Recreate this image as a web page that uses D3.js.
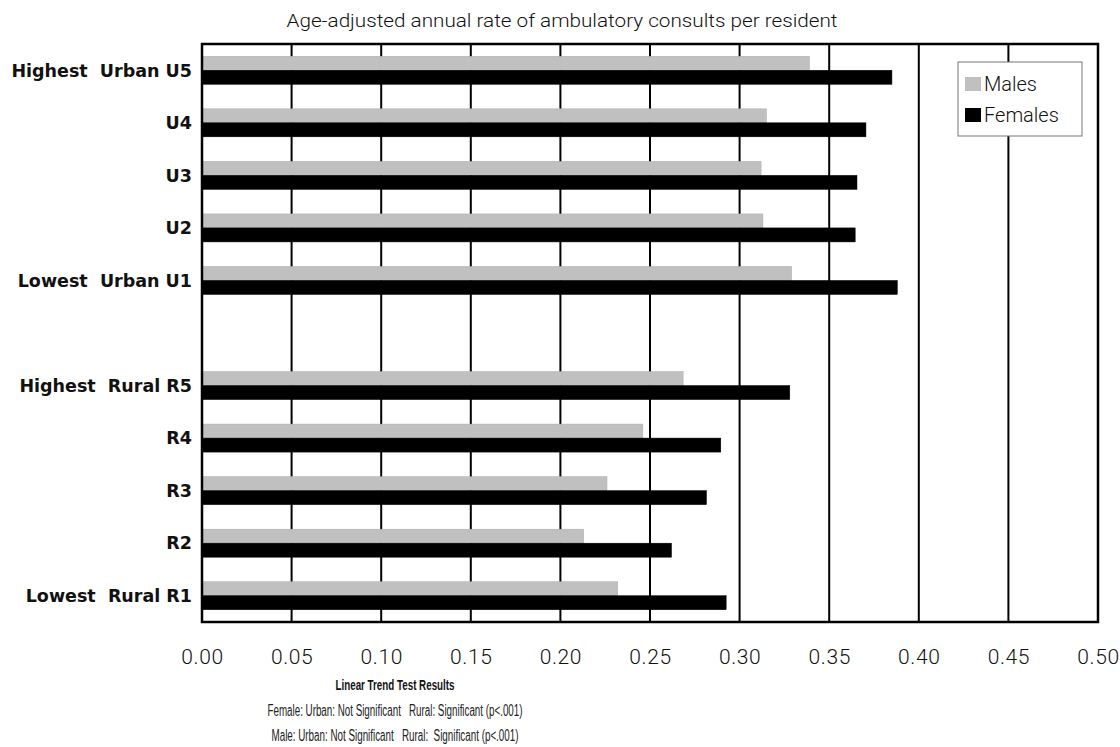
<!DOCTYPE html>
<html>
<head>
<meta charset="utf-8">
<script src="https://cdn.jsdelivr.net/npm/d3@7"></script>
<style>
  html, body { margin: 0; padding: 0; background: #fff; }
  svg { display: block; }
  text { font-family: "Liberation Sans", Arial, sans-serif; }
</style>
</head>
<body>
<svg id="chart" width="1120" height="747"></svg>
<script>
// ---- data ----
const categories = ["Highest  Urban U5", "U4", "U3", "U2", "Lowest  Urban U1", "",
                    "Highest  Rural R5", "R4", "R3", "R2", "Lowest  Rural R1"];
const males   = [0.339, 0.315, 0.312, 0.313, 0.329, null, 0.2685, 0.246, 0.226, 0.213, 0.232];
const females = [0.385, 0.3705, 0.3655, 0.3645, 0.388, null, 0.328, 0.2895, 0.2815, 0.262, 0.2925];
const seriesNames = ["Males", "Females"];
const tickValues = [0, 0.05, 0.10, 0.15, 0.20, 0.25, 0.30, 0.35, 0.40, 0.45, 0.50];
const subtitle = "Age-adjusted annual rate of ambulatory consults per resident";
const footTitle = "Linear Trend Test Results";
const footLines = ["Female: Urban: Not Significant   Rural: Significant (p<.001)",
                   "Male: Urban: Not Significant   Rural:  Significant (p<.001)"];

// ---- layout ----
const svg = d3.select("#chart");
const L = 202, R = 1098, T = 44, B = 622;
const colors = { Males: "#c0c0c0", Females: "#000000" };

const x = d3.scaleLinear().domain([0, 0.5]).range([L, R]);
const keys = categories.map((c, i) => "k" + i);
const y = d3.scaleBand().domain(keys).range([T, B]).padding(0);
const step = y.bandwidth();
const sub = d3.scaleBand().domain(seriesNames).range([step / 2 - 14, step / 2 + 14]).padding(0);

// subtitle
svg.append("text")
  .attr("x", 562).attr("y", 27)
  .attr("text-anchor", "middle")
  .attr("textLength", 551)
  .attr("lengthAdjust", "spacingAndGlyphs")
  .style("font-family", "Roboto, 'Liberation Sans', sans-serif")
  .style("font-weight", "300")
  .style("font-size", "18.5px")
  .style("fill", "#111")
  .text(subtitle);

// gridlines (behind bars)
svg.append("g")
  .selectAll("line")
  .data(tickValues.slice(1, -1))
  .join("line")
  .attr("x1", d => x(d)).attr("x2", d => x(d))
  .attr("y1", T).attr("y2", B)
  .attr("stroke", "#000").attr("stroke-width", 2);

// bars
const rows = categories.map((c, i) => ({ key: keys[i], label: c, Males: males[i], Females: females[i] }))
  .filter(d => d.Males !== null);

const g = svg.append("g");
rows.forEach(r => {
  seriesNames.forEach(s => {
    g.append("rect")
      .attr("x", x(0))
      .attr("y", y(r.key) + sub(s))
      .attr("width", x(r[s]) - x(0))
      .attr("height", sub.bandwidth())
      .attr("fill", colors[s])
      .attr("stroke", s === "Males" ? "#aaa" : "#000")
      .attr("stroke-width", 0.5);
  });
});

// plot border
svg.append("rect")
  .attr("x", L).attr("y", T).attr("width", R - L).attr("height", B - T)
  .attr("fill", "none").attr("stroke", "#000").attr("stroke-width", 2.5);

// category labels
svg.append("g")
  .selectAll("text")
  .data(rows)
  .join("text")
  .attr("x", 192)
  .attr("y", d => y(d.key) + step / 2)
  .attr("dy", "0.36em")
  .attr("text-anchor", "end")
  .attr("xml:space", "preserve")
  .style("white-space", "pre")
  .style("font-family", "'DejaVu Sans', sans-serif")
  .style("font-size", "17.5px")
  .style("font-weight", "bold")
  .style("fill", "#111")
  .text(d => d.label);

// x axis (labels only)
const xAxis = d3.axisBottom(x).tickValues(tickValues).tickSize(0).tickPadding(0)
  .tickFormat(d3.format(".2f"));
const ax = svg.append("g").attr("transform", `translate(0, ${B + 27})`).call(xAxis);
ax.select(".domain").remove();
ax.selectAll("text")
  .style("font-family", "Roboto, 'Liberation Sans', sans-serif")
  .style("font-weight", "300")
  .style("font-size", "21px")
  .style("letter-spacing", "0.6px")
  .style("fill", "#111");

// legend
const lg = svg.append("g");
lg.append("rect").attr("x", 958).attr("y", 62).attr("width", 124).attr("height", 74)
  .attr("fill", "#fff").attr("stroke", "#777").attr("stroke-width", 1);
seriesNames.forEach((s, i) => {
  lg.append("rect").attr("x", 965).attr("y", 77 + i * 31).attr("width", 16).attr("height", 14)
    .attr("fill", colors[s]);
  lg.append("text").attr("x", 984).attr("y", 84 + i * 31).attr("dy", "0.36em")
    .style("font-family", "Roboto, 'Liberation Sans', sans-serif")
    .style("font-weight", "300")
    .style("font-size", "20px").style("fill", "#111").text(s);
});

// footer
svg.append("text")
  .attr("x", 395).attr("y", 690)
  .attr("text-anchor", "middle")
  .attr("textLength", 119)
  .attr("lengthAdjust", "spacingAndGlyphs")
  .style("font-weight", "bold")
  .style("font-size", "15px")
  .style("fill", "#111")
  .text(footTitle);
const footWidths = [255, 247];
footLines.forEach((t, i) => {
  svg.append("text")
    .attr("x", 395).attr("y", 716 + i * 25)
    .attr("text-anchor", "middle")
    .attr("xml:space", "preserve")
    .attr("textLength", footWidths[i])
    .attr("lengthAdjust", "spacingAndGlyphs")
    .style("white-space", "pre")
    .style("font-family", "'Liberation Sans', sans-serif")
    .style("font-size", "16px")
    .style("fill", "#222")
    .text(t);
});
</script>
</body>
</html>
